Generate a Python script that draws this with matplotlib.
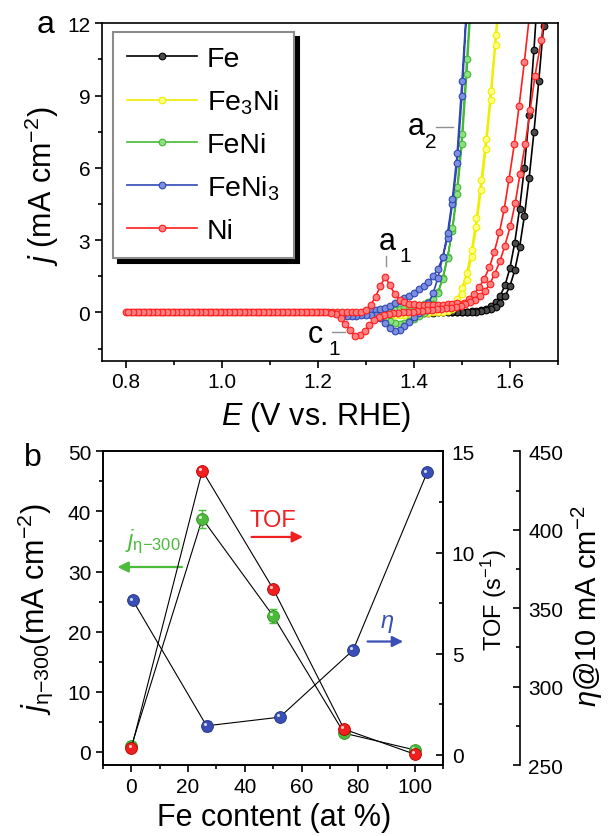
import matplotlib
matplotlib.use('Agg')
import matplotlib.pyplot as plt
from matplotlib.ticker import MultipleLocator, FormatStrFormatter
from matplotlib.transforms import ScaledTranslation

plt.rcParams['font.family'] = ['Liberation Sans', 'DejaVu Sans']
plt.rcParams['mathtext.fontset'] = 'custom'
plt.rcParams['mathtext.rm'] = 'Liberation Sans'
plt.rcParams['mathtext.it'] = 'Liberation Sans:italic'
plt.rcParams['mathtext.bf'] = 'Liberation Sans:bold'
plt.rcParams['axes.linewidth'] = 1.2

# ---------------- panel a: CV curves (E / V vs RHE, j / mA cm-2) ----------------
# every curve is a loop: anodic branch (fwd) and cathodic branch (rev), both listed with E ascending

# Ni
E_ni_fwd = [0.80, 0.81, 0.82, 0.83, 0.84, 0.85, 0.86, 0.87, 0.88, 0.89,
            0.90, 0.91, 0.92, 0.93, 0.94, 0.95, 0.96, 0.97, 0.98, 0.99,
            1.00, 1.01, 1.02, 1.03, 1.04, 1.05, 1.06, 1.07, 1.08, 1.09,
            1.10, 1.11, 1.12, 1.13, 1.14, 1.15, 1.16, 1.17, 1.18, 1.19,
            1.20, 1.21, 1.22, 1.23, 1.24, 1.25, 1.26, 1.27, 1.28, 1.29,
            1.30, 1.31, 1.32, 1.33, 1.34, 1.35, 1.36, 1.37, 1.38, 1.39,
            1.40, 1.41, 1.42, 1.43, 1.44, 1.45, 1.46, 1.47, 1.48, 1.49,
            1.504, 1.515, 1.525, 1.536, 1.546, 1.557, 1.567, 1.578, 1.588, 1.598,
            1.609, 1.619, 1.630, 1.641]
j_ni_fwd = [0.00, 0.00, 0.00, 0.00, 0.00, 0.00, 0.00, 0.00, 0.00, 0.00,
            0.00, 0.00, 0.00, 0.00, 0.00, 0.00, 0.00, 0.00, 0.00, 0.00,
            0.00, 0.00, 0.00, 0.00, 0.00, 0.00, 0.00, 0.00, 0.00, 0.00,
            0.00, 0.00, 0.00, 0.00, 0.00, 0.00, 0.00, 0.00, 0.00, 0.00,
            0.00, 0.00, 0.00, 0.00, 0.00, 0.00, 0.00, 0.01, 0.02, 0.04,
            0.10, 0.32, 0.65, 1.10, 1.48, 1.12, 0.76, 0.52, 0.42, 0.37,
            0.34, 0.32, 0.31, 0.31, 0.31, 0.32, 0.33, 0.35, 0.37, 0.39,
            0.41, 0.55, 0.76, 1.04, 1.38, 1.87, 2.49, 3.32, 4.29, 5.53,
            6.98, 8.57, 10.4, 12.4]
E_ni_rev = [0.805, 0.815, 0.825, 0.835, 0.845, 0.855, 0.865, 0.875, 0.885, 0.895,
            0.905, 0.915, 0.925, 0.935, 0.945, 0.955, 0.965, 0.975, 0.985, 0.995,
            1.005, 1.015, 1.025, 1.035, 1.045, 1.055, 1.065, 1.075, 1.085, 1.095,
            1.105, 1.115, 1.125, 1.135, 1.145, 1.155, 1.165, 1.175, 1.185, 1.195,
            1.205, 1.215,
            1.227, 1.237, 1.247, 1.257, 1.267, 1.277, 1.287, 1.297, 1.307, 1.317,
            1.327, 1.337, 1.347, 1.357, 1.367, 1.377, 1.387, 1.397, 1.407, 1.417,
            1.427, 1.437, 1.447, 1.457, 1.467, 1.477, 1.487, 1.497, 1.507, 1.517,
            1.527, 1.537,
            1.548, 1.558, 1.568, 1.579, 1.589, 1.601, 1.611, 1.621, 1.632, 1.642,
            1.652, 1.665, 1.675]
j_ni_rev = [0.00, 0.00, 0.00, 0.00, 0.00, 0.00, 0.00, 0.00, 0.00, 0.00,
            0.00, 0.00, 0.00, 0.00, 0.00, 0.00, 0.00, 0.00, 0.00, 0.00,
            0.00, 0.00, 0.00, 0.00, 0.00, 0.00, 0.00, 0.00, 0.00, 0.00,
            0.00, 0.00, 0.00, 0.00, 0.00, 0.00, 0.00, 0.00, 0.00, 0.00,
            0.00, 0.00,
            -0.02, -0.08, -0.24, -0.48, -0.72, -0.98, -0.95, -0.78, -0.52, -0.31,
            -0.18, -0.10, -0.07, -0.04, -0.02, 0.00, 0.02, 0.04, 0.06, 0.08,
            0.10, 0.12, 0.13, 0.15, 0.17, 0.20, 0.23, 0.28, 0.34, 0.42,
            0.53, 0.69,
            0.90, 1.18, 1.60, 2.12, 2.75, 3.60, 4.55, 5.75, 7.00, 8.40,
            9.80, 11.3, 12.8]

# FeNi3
E_feni3 = [1.25, 1.26, 1.27, 1.28, 1.29, 1.30, 1.31, 1.32, 1.33, 1.34,
           1.35, 1.36, 1.37, 1.38, 1.39, 1.40, 1.41, 1.42, 1.43, 1.44,
           1.45, 1.46, 1.47, 1.48, 1.49, 1.50, 1.51]
j_feni3_fwd = [-0.13, -0.12, -0.10, -0.07, -0.04, 0.00, 0.05, 0.09, 0.14, 0.20,
               0.28, 0.38, 0.48, 0.58, 0.69, 0.82, 0.97, 1.10, 1.26, 1.50,
               1.80, 2.30, 3.10, 4.50, 6.20, 9.00, 12.6]
j_feni3_rev = [-0.14, -0.14, -0.14, -0.13, -0.12, -0.10, -0.09, -0.12, -0.22, -0.42,
               -0.64, -0.78, -0.72, -0.58, -0.38, -0.18, -0.02, 0.12, 0.38, 0.80,
               1.45, 2.30, 3.30, 4.70, 6.60, 9.60, 12.8]

# FeNi
E_feni = [1.28, 1.29, 1.30, 1.31, 1.32, 1.33, 1.34, 1.35, 1.36, 1.37,
          1.38, 1.39, 1.40, 1.41, 1.42, 1.43, 1.44, 1.45, 1.46, 1.47,
          1.48, 1.49, 1.50, 1.51, 1.52]
j_feni_fwd = [-0.02, -0.01, 0.00, 0.02, 0.04, 0.06, 0.08, 0.10, 0.12, 0.15,
              0.18, 0.21, 0.25, 0.29, 0.34, 0.42, 0.55, 0.85, 1.45, 2.30,
              3.40, 4.90, 7.00, 9.90, 13.2]
j_feni_rev = [-0.03, -0.03, -0.03, -0.04, -0.07, -0.12, -0.22, -0.35, -0.45, -0.48,
              -0.44, -0.36, -0.26, -0.15, -0.04, 0.10, 0.35, 0.80, 1.40, 2.25,
              3.50, 5.20, 7.40, 10.5, 13.6]

# Fe3Ni
E_fe3ni = [1.30, 1.31, 1.32, 1.33, 1.34, 1.35, 1.36, 1.37, 1.38, 1.39,
           1.40, 1.41, 1.42, 1.43, 1.44, 1.45, 1.46, 1.47, 1.48, 1.49,
           1.50, 1.51, 1.52, 1.53, 1.54, 1.55, 1.56, 1.57, 1.58]
j_fe3ni_fwd = [0.00, 0.00, 0.01, 0.01, 0.02, 0.02, 0.03, 0.04, 0.05, 0.06,
               0.07, 0.08, 0.09, 0.10, 0.12, 0.14, 0.17, 0.22, 0.32, 0.55,
               1.00, 1.65, 2.60, 3.90, 5.50, 7.20, 9.20, 11.5, 14.0]
j_fe3ni_rev = [-0.02, -0.03, -0.04, -0.05, -0.07, -0.09, -0.10, -0.10, -0.09, -0.07,
               -0.05, -0.03, -0.02, -0.01, 0.00, 0.01, 0.03, 0.07, 0.15, 0.35,
               0.75, 1.35, 2.30, 3.55, 5.10, 6.80, 8.80, 11.1, 13.6]

# Fe
E_fe_fwd = [1.40, 1.41, 1.42, 1.43, 1.44, 1.45, 1.46, 1.47, 1.48, 1.49,
            1.50, 1.51, 1.52, 1.53, 1.54, 1.55, 1.56, 1.57, 1.58, 1.59,
            1.60, 1.61, 1.62, 1.63, 1.64, 1.65, 1.66]
j_fe_fwd = [0.00, 0.00, 0.00, 0.00, 0.00, 0.01, 0.01, 0.02, 0.02, 0.03,
            0.03, 0.04, 0.05, 0.07, 0.10, 0.15, 0.25, 0.42, 0.70, 1.15,
            1.85, 2.90, 4.30, 6.00, 8.20, 10.9, 14.0]
E_fe_rev = [1.40, 1.41, 1.42, 1.43, 1.44, 1.45, 1.46, 1.47, 1.48, 1.49,
            1.50, 1.51, 1.52, 1.53, 1.54, 1.55, 1.56, 1.57, 1.58, 1.59,
            1.60, 1.61, 1.62, 1.63, 1.64, 1.65, 1.66, 1.67, 1.68]
j_fe_rev = [-0.01, -0.01, -0.01, -0.01, -0.01, 0.00, 0.00, 0.00, 0.01, 0.01,
            0.02, 0.02, 0.03, 0.04, 0.06, 0.09, 0.14, 0.24, 0.40, 0.68,
            1.10, 1.75, 2.70, 4.00, 5.60, 7.50, 9.60, 11.9, 14.3]

# ---------------- panel b ----------------
fe_content = [0, 25, 50, 75, 100]
j_eta300 = [0.9, 38.8, 22.6, 3.1, 0.3]
j_eta300_err = [0.0, 1.5, 1.1, 0.0, 0.0]
tof = [0.33, 14.05, 8.2, 1.27, 0.03]
eta_x = [0.5, 26.5, 52.3, 78.2, 104.3]
eta = [355.0, 275.0, 280.5, 323.3, 436.6]
eta_err = [0.0, 3.2, 0.0, 0.0, 0.0]


def loop(E_f, j_f, E_r, j_r):
    # anodic sweep up, cathodic sweep back down
    return list(E_f) + list(E_r)[::-1], list(j_f) + list(j_r)[::-1]


fig = plt.figure(figsize=(6.1, 8.37), dpi=100)

# ===== panel a =====
ax1 = fig.add_axes([0.1672, 0.5679, 0.7475, 0.4031])

curves = [
    ('Fe', E_fe_fwd, j_fe_fwd, E_fe_rev, j_fe_rev, '#000000', '#4a4a4a'),
    ('Fe$_3$Ni', E_fe3ni, j_fe3ni_fwd, E_fe3ni, j_fe3ni_rev, '#eeee00', '#ffff80'),
    ('FeNi', E_feni, j_feni_fwd, E_feni, j_feni_rev, '#45b838', '#8ee07f'),
    ('FeNi$_3$', E_feni3, j_feni3_fwd, E_feni3, j_feni3_rev, '#3048b0', '#7b8ee0'),
    ('Ni', E_ni_fwd, j_ni_fwd, E_ni_rev, j_ni_rev, '#ff1e1e', '#ff8080'),
]
for lab, Ef, jf, Er, jr, col, face in curves:
    E, j = loop(Ef, jf, Er, jr)
    ax1.plot(E, j, '-o', color=col, lw=1.2, ms=4.8, mfc=face, mec=col,
             mew=0.8, label=lab)

ax1.set_xlim(0.75, 1.70)
ax1.set_ylim(-2, 12)
ax1.xaxis.set_major_locator(MultipleLocator(0.2))
ax1.xaxis.set_minor_locator(MultipleLocator(0.1))
ax1.xaxis.set_major_formatter(FormatStrFormatter('%.1f'))
ax1.yaxis.set_major_locator(MultipleLocator(3))
ax1.yaxis.set_minor_locator(MultipleLocator(1.5))
ax1.tick_params(which='both', direction='out', width=1.2, labelsize=15)
ax1.tick_params(which='major', length=5)
ax1.tick_params(which='minor', length=3)

ax1.set_xlabel(r'$E$ (V vs. RHE)', fontsize=22, va='top')
ax1.xaxis.set_label_coords(0.47, -0.115)
ax1.set_ylabel(r'$j$ (mA cm$^{-2}$)', fontsize=22)
ax1.yaxis.set_label_coords(-0.09, 0.52)

leg = ax1.legend(loc='upper left', bbox_to_anchor=(0.024, 0.975), borderaxespad=0,
                 fontsize=20.5, handlelength=2.45, handletextpad=0.35, labelspacing=0.55,
                 borderpad=0.5, numpoints=1, fancybox=False, framealpha=1,
                 edgecolor='#8c8c8c',
                 shadow={'color': 'black', 'alpha': 1, 'ox': 3.5, 'oy': -3.5})
leg.get_frame().set_linewidth(1.5)

# peak labels
grey = '#909090'
ax1.text(1.326, 2.63, 'a', fontsize=22)
ax1.text(1.370, 2.14, '1', fontsize=15)
ax1.plot([1.342, 1.342], [1.92, 2.36], color=grey, lw=1)
ax1.text(1.387, 7.40, 'a', fontsize=22)
ax1.text(1.424, 6.86, '2', fontsize=15)
ax1.plot([1.445, 1.481], [7.71, 7.71], color=grey, lw=1)
ax1.text(1.179, -1.22, 'c', fontsize=22)
ax1.text(1.221, -1.72, '1', fontsize=15)
ax1.plot([1.229, 1.256], [-0.82, -0.82], color=grey, lw=1)

fig.text(0.0754, 0.9606, 'a', fontsize=23, ha='center')
fig.text(0.054, 0.4432, 'b', fontsize=23, ha='center')

# ===== panel b =====
green, red, blue = '#4cbb3c', '#f02020', '#3a4fb5'
ax3 = fig.add_axes([0.1689, 0.0848, 0.5579, 0.3748])
ax_tof = ax3.twinx()
ax_eta = ax3.twinx()
ax_eta.spines['right'].set_position(('axes', 1.225))
for s in ['left', 'top', 'bottom']:
    ax_eta.spines[s].set_visible(False)


def balls(ax, x, y, col, edge):
    ax.plot(x, y, 'o', ms=8.5, mfc=col, mec=edge, mew=0.6, zorder=4)
    hl = ax.transData + ScaledTranslation(-1.3 / 72, 1.3 / 72, fig.dpi_scale_trans)
    ax.plot(x, y, 'o', ms=2.2, mfc='white', mec='none', alpha=0.8, transform=hl, zorder=5)


ax3.plot(fe_content, j_eta300, color='k', lw=0.8, zorder=2)
ax3.errorbar(fe_content, j_eta300, yerr=j_eta300_err, fmt='none', ecolor=green,
             elinewidth=1, capsize=3, capthick=1, zorder=3)
balls(ax3, fe_content, j_eta300, green, '#2f8f22')

ax_tof.plot(fe_content, tof, color='k', lw=0.8, zorder=2)
balls(ax_tof, fe_content, tof, red, '#b00000')

ax_eta.plot(eta_x, eta, color='k', lw=0.8, zorder=2)
ax_eta.errorbar(eta_x, eta, yerr=eta_err, fmt='none', ecolor=blue,
                elinewidth=1, capsize=3, capthick=1, zorder=3)
balls(ax_eta, eta_x, eta, blue, '#1f2f80')

ax3.set_xlim(-10, 110)
ax3.set_ylim(-2.2, 50)
ax_tof.set_ylim(-0.5, 15)
ax_eta.set_ylim(250, 450)

ax3.xaxis.set_major_locator(MultipleLocator(20))
ax3.xaxis.set_minor_locator(MultipleLocator(10))
ax3.yaxis.set_major_locator(MultipleLocator(10))
ax3.yaxis.set_minor_locator(MultipleLocator(5))
ax_tof.yaxis.set_major_locator(MultipleLocator(5))
ax_tof.yaxis.set_minor_locator(MultipleLocator(2.5))
ax_eta.yaxis.set_major_locator(MultipleLocator(50))
ax_eta.yaxis.set_minor_locator(MultipleLocator(25))

ax3.tick_params(which='both', direction='out', width=1.2, labelsize=15, top=False, right=False)
ax3.tick_params(which='major', length=5)
ax3.tick_params(which='minor', length=3)
for a in (ax_tof, ax_eta):
    a.tick_params(which='both', direction='in', width=1.2, labelsize=15)
    a.tick_params(which='major', length=5, pad=6)
    a.tick_params(which='minor', length=3)

ax3.set_xlabel('Fe content (at %)', fontsize=22, va='top')
ax3.xaxis.set_label_coords(0.502, -0.118)
ax3.set_ylabel(r'$j_{\mathrm{\eta{-}300}}$(mA cm$^{-2}$)', fontsize=22)
ax3.yaxis.set_label_coords(-0.14, 0.5)
ax_tof.set_ylabel(r'TOF (s$^{-1}$)', fontsize=17)
ax_tof.yaxis.set_label_coords(1.103, 0.53)
ax_eta.set_ylabel(r'$\eta$@10 mA cm$^{-2}$', fontsize=21)
ax_eta.yaxis.set_label_coords(1.372, 0.51)

# series hints
arrow = dict(arrowstyle='-|>', lw=1.6, mutation_scale=16)
ax3.text(50, 37.6, 'TOF', color=red, fontsize=17, ha='center')
ax3.annotate('', xy=(61.5, 35.75), xytext=(41.4, 35.75),
             arrowprops=dict(arrow, color=red))
ax3.text(-2.4, 34.3, r'$j_{\mathrm{\eta{-}300}}$', color=green, fontsize=17)
ax3.annotate('', xy=(-5.9, 30.75), xytext=(18.8, 30.75),
             arrowprops=dict(arrow, color=green))
ax3.text(87.6, 20.8, r'$\eta$', color=blue, fontsize=17)
ax3.annotate('', xy=(96.8, 18.35), xytext=(82.3, 18.35),
             arrowprops=dict(arrow, color=blue))

fig.savefig('out.png', dpi=100)
